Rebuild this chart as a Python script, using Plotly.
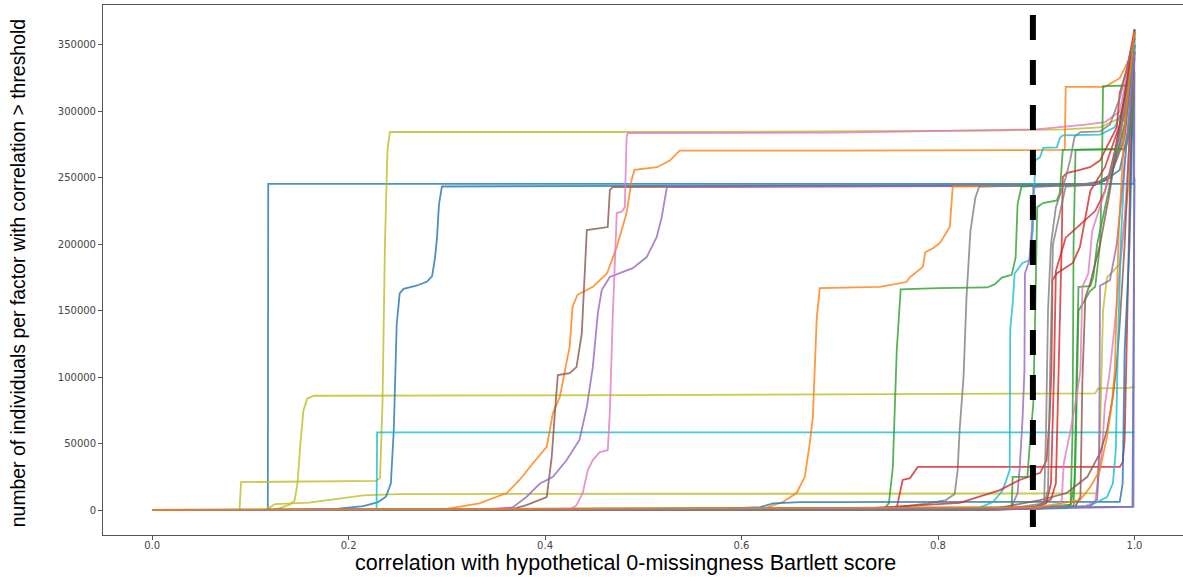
import plotly.graph_objects as go

# Correlation thresholds (x) and individuals-per-factor counts (y) for each factor curve
blue_a_x = [0, 0.1178, 0.1182, 0.5, 0.999, 1.0]
blue_a_y = [0, 0, 245500, 245500, 245500, 362000]

olive_a_x = [0, 0.089, 0.0905, 0.15, 0.228, 0.232, 0.2345, 0.237, 0.2395, 0.242, 0.5, 0.85, 0.93, 0.965, 0.985, 0.995, 1.0]
olive_a_y = [0, 0, 21000, 21200, 22000, 24000, 80000, 200000, 270000, 284500, 284500, 285500, 286500, 288000, 295000, 320000, 350000]

olive_b_x = [0, 0.12, 0.13, 0.14, 0.145, 0.148, 0.151, 0.154, 0.158, 0.165, 0.5, 0.96, 0.963, 0.995, 1.0]
olive_b_y = [0, 0, 1500, 4000, 7000, 20000, 50000, 75000, 84000, 86000, 86500, 87800, 91500, 92000, 93000]

olive_c_x = [0, 0.115, 0.12, 0.125, 0.16, 0.175, 0.19, 0.215, 0.25, 0.5, 0.9, 0.962, 0.965, 0.968, 0.972, 0.985, 0.995, 1.0]
olive_c_y = [0, 0, 2000, 4500, 5500, 7000, 9000, 11000, 12000, 12000, 12200, 12500, 60000, 150000, 175000, 185000, 250000, 345000]

blue_b_x = [0, 0.15, 0.19, 0.215, 0.23, 0.238, 0.243, 0.246, 0.249, 0.252, 0.256, 0.27, 0.28, 0.285, 0.288, 0.29, 0.292, 0.295, 0.5, 0.9, 0.95, 0.97, 0.985, 0.995, 1.0]
blue_b_y = [0, 0, 1000, 3000, 6000, 10000, 20000, 60000, 140000, 163000, 166500, 169000, 172000, 176000, 190000, 205000, 230000, 243500, 244000, 244500, 245500, 248000, 256000, 290000, 340000]

cyan_a_x = [0, 0.2285, 0.229, 0.999, 1.0]
cyan_a_y = [0, 0, 58500, 58500, 58500]

orange_a_x = [0, 0.25, 0.3, 0.333, 0.361, 0.374, 0.3875, 0.4017, 0.408, 0.415, 0.425, 0.428, 0.433, 0.4486, 0.463, 0.473, 0.483, 0.488, 0.491, 0.514, 0.527, 0.537, 0.7, 0.929, 0.93, 0.97, 0.985, 0.995, 1.0]
orange_a_y = [0, 0, 800, 5000, 12800, 22600, 35000, 47600, 73000, 85000, 123000, 153000, 162000, 168000, 178000, 198000, 223500, 248000, 256000, 258000, 263000, 270500, 270500, 271000, 318500, 318500, 325000, 340000, 358000]

brown_a_x = [0, 0.33, 0.37, 0.381, 0.4017, 0.4068, 0.41, 0.413, 0.425, 0.432, 0.4374, 0.4404, 0.4425, 0.4638, 0.466, 0.469, 0.6, 0.9, 0.96, 0.975, 0.99, 1.0]
brown_a_y = [0, 0, 1500, 3700, 9800, 40000, 73000, 101600, 103000, 107600, 133000, 173000, 210700, 213000, 241000, 243000, 243500, 244000, 245000, 250000, 280000, 350000]

purple_a_x = [0, 0.33, 0.367, 0.381, 0.395, 0.408, 0.422, 0.435, 0.4425, 0.4486, 0.4537, 0.4577, 0.4659, 0.4893, 0.5035, 0.5137, 0.5188, 0.524, 0.7, 0.9, 0.96, 0.975, 0.99, 1.0]
purple_a_y = [0, 0, 2000, 9800, 20000, 25000, 37600, 52700, 77500, 107600, 148000, 165600, 175400, 182000, 190400, 205500, 220500, 243000, 243500, 244000, 245000, 250000, 285000, 352000]

pink_a_x = [0, 0.425, 0.432, 0.4384, 0.4435, 0.4486, 0.4557, 0.4638, 0.4659, 0.469, 0.473, 0.478, 0.4812, 0.483, 0.4842, 0.7, 0.9, 0.95, 0.97, 0.985, 1.0]
pink_a_y = [0, 0, 3700, 12800, 30000, 37600, 43600, 45000, 73000, 148000, 223500, 224500, 228000, 280700, 283700, 284000, 286500, 290000, 292000, 300000, 356000]

orange_b_x = [0, 0.6187, 0.642, 0.656, 0.6644, 0.6695, 0.6726, 0.6766, 0.6797, 0.7408, 0.768, 0.771, 0.7846, 0.787, 0.7948, 0.802, 0.812, 0.815, 0.9, 0.96, 0.975, 0.99, 1.0]
orange_b_y = [0, 0, 6000, 12800, 25000, 50400, 70000, 145000, 167000, 168000, 171600, 175000, 183000, 194000, 197000, 201000, 213000, 243500, 244000, 245500, 252000, 290000, 360000]

gray_a_x = [0, 0.6, 0.75, 0.79, 0.808, 0.817, 0.82, 0.822, 0.826, 0.829, 0.833, 0.838, 0.842, 0.9, 0.96, 0.975, 0.99, 1.0]
gray_a_y = [0, 0, 1500, 5000, 7500, 12000, 30000, 60000, 100000, 160000, 210000, 235000, 243500, 244000, 245000, 252000, 300000, 355000]

green_a_x = [0, 0.7, 0.745, 0.75, 0.754, 0.758, 0.762, 0.8, 0.85, 0.858, 0.865, 0.875, 0.879, 0.881, 0.885, 0.9, 0.96, 0.975, 0.99, 1.0]
green_a_y = [0, 0, 1000, 5000, 32000, 120000, 166000, 167000, 167500, 170000, 175000, 177000, 190000, 230000, 243500, 244000, 245000, 250000, 290000, 355000]

red_a_x = [0, 0.757, 0.759, 0.764, 0.7715, 0.7795, 0.7813, 0.985, 0.988, 0.99, 0.992, 0.996, 1.0]
red_a_y = [0, 0, 5000, 22600, 24000, 32400, 32400, 32400, 36000, 52700, 122000, 260000, 350000]

blue_c_x = [0, 0.55, 0.619, 0.632, 0.66, 0.9, 0.985, 0.988, 0.99, 0.995, 1.0]
blue_c_y = [0, 0, 2200, 5000, 6000, 6000, 6200, 20000, 120000, 200000, 362000]

blue_d_x = [0, 0.8, 0.998, 1.0]
blue_d_y = [0, 1000, 2500, 250000]

purple_b_x = [0, 0.9, 0.999, 1.0]
purple_b_y = [0, 1000, 2300, 330000]

cyan_b_x = [0, 0.6, 0.84, 0.856, 0.866, 0.873, 0.8735, 0.8763, 0.878, 0.886, 0.893, 0.8966, 0.899, 0.904, 0.907, 0.921, 0.924, 0.927, 0.965, 0.98, 0.99, 1.0]
cyan_b_y = [0, 0, 1000, 6000, 15000, 30000, 135500, 158000, 178000, 186000, 188000, 210700, 263000, 265700, 272500, 273000, 280000, 282000, 282500, 288000, 305000, 355000]

purple_c_x = [0, 0.7, 0.85, 0.875, 0.881, 0.883, 0.886, 0.888, 0.8885, 0.893, 0.8955, 0.897, 0.92, 0.96, 0.975, 0.99, 1.0]
purple_c_y = [0, 0, 1000, 2500, 12800, 30000, 67700, 105000, 178000, 188000, 211000, 243000, 244000, 245000, 252000, 300000, 350000]

green_b_x = [0, 0.8, 0.87, 0.875, 0.876, 0.891, 0.893, 0.897, 0.899, 0.901, 0.907, 0.921, 0.924, 0.926, 0.927, 0.99, 0.997, 1.0]
green_b_y = [0, 0, 1500, 2500, 25000, 25000, 45000, 80000, 150000, 228000, 231000, 233000, 238600, 260000, 271000, 271500, 285000, 350000]

green_c_x = [0, 0.8, 0.93, 0.938, 0.94, 0.943, 0.955, 0.96, 0.965, 0.967, 0.968, 0.995, 1.0]
green_c_y = [0, 0, 1500, 3000, 40000, 150000, 165000, 168000, 200000, 260000, 319000, 319500, 360000]

green_d_x = [0, 0.85, 0.93, 0.935, 0.937, 0.938, 0.94, 0.99, 0.997, 1.0]
green_d_y = [0, 0, 2000, 4000, 60000, 200000, 271000, 272000, 290000, 345000]

green_e_x = [0, 0.9, 0.935, 0.939, 0.941, 0.943, 0.955, 0.958, 0.962, 0.975, 0.99, 1.0]
green_e_y = [0, 2000, 4000, 20000, 100000, 168000, 168500, 175000, 200000, 245000, 300000, 350000]

red_b_x = [0, 0.7, 0.822, 0.863, 0.883, 0.893, 0.904, 0.9105, 0.9135, 0.9155, 0.9165, 0.9208, 0.9373, 0.9445, 0.9475, 0.955, 0.97, 0.985, 1.0]
red_b_y = [0, 0, 5300, 15000, 22600, 25000, 28000, 37600, 67700, 105000, 173000, 178000, 186000, 198000, 210700, 240000, 258000, 290000, 358000]

red_c_x = [0, 0.85, 0.9, 0.915, 0.92, 0.922, 0.924, 0.926, 0.927, 0.931, 0.9445, 0.9547, 0.9648, 0.982, 0.985, 0.992, 1.0]
red_c_y = [0, 0, 3000, 8000, 20000, 80000, 135500, 203000, 250600, 253600, 256000, 258000, 263000, 288000, 314000, 331000, 361000]

red_d_x = [0, 0.85, 0.9, 0.91, 0.915, 0.918, 0.92, 0.93, 0.945, 0.96, 0.97, 0.98, 0.99, 1.0]
red_d_y = [0, 0, 2000, 5000, 20000, 100000, 180000, 205000, 215000, 225000, 240000, 270000, 310000, 360000]

pink_b_x = [0, 0.85, 0.922, 0.926, 0.928, 0.935, 0.942, 0.945, 0.947, 0.953, 0.957, 0.97, 0.985, 1.0]
pink_b_y = [0, 0, 2000, 8000, 35000, 60000, 90000, 105000, 168000, 178000, 210000, 240000, 280000, 352000]

pink_c_x = [0, 0.9, 0.95, 0.96, 0.967, 0.97, 0.975, 0.98, 0.99, 1.0]
pink_c_y = [0, 1000, 3000, 6000, 45000, 80000, 105000, 140000, 220000, 340000]

brown_b_x = [0, 0.85, 0.904, 0.931, 0.952, 0.965, 0.972, 0.978, 0.982, 0.985, 0.99, 0.995, 1.0]
brown_b_y = [0, 0, 7500, 12800, 25000, 43000, 60000, 85000, 110000, 140000, 200000, 280000, 345000]

brown_c_x = [0, 0.9, 0.94, 0.945, 0.947, 0.95, 0.955, 0.965, 0.975, 0.985, 1.0]
brown_c_y = [0, 1000, 3000, 10000, 98000, 160000, 171000, 200000, 240000, 290000, 350000]

gray_b_x = [0, 0.85, 0.905, 0.908, 0.91, 0.912, 0.915, 0.92, 0.93, 0.935, 0.939, 0.945, 0.965, 0.975, 0.985, 1.0]
gray_b_y = [0, 0, 3000, 6000, 60000, 150000, 200000, 228000, 250000, 265000, 281000, 284500, 285000, 290000, 310000, 357000]

gray_c_x = [0, 0.88, 0.908, 0.912, 0.914, 0.917, 0.93, 0.96, 0.975, 0.99, 1.0]
gray_c_y = [0, 2000, 5000, 15000, 100000, 200000, 243500, 245000, 252000, 300000, 350000]

cyan_c_x = [0, 0.9, 0.952, 0.972, 0.978, 0.981, 0.983, 0.986, 0.99, 0.995, 1.0]
cyan_c_y = [0, 1500, 2300, 9800, 20000, 45000, 120000, 200000, 260000, 300000, 350000]

purple_d_x = [0, 0.9, 0.955, 0.962, 0.964, 0.965, 0.968, 0.975, 0.982, 0.99, 1.0]
purple_d_y = [0, 1500, 3000, 8000, 40000, 169000, 170000, 173000, 200000, 260000, 345000]

orange_c_x = [0, 0.9, 0.9445, 0.9547, 0.9648, 0.972, 0.977, 0.98, 0.984, 0.99, 1.0]
orange_c_y = [0, 2000, 7500, 17000, 30000, 55000, 80000, 105000, 210000, 290000, 360000]

threshold = 0.8966

x_ticks = [0.0, 0.2, 0.4, 0.6, 0.8, 1.0]
x_tick_labels = ["0.0", "0.2", "0.4", "0.6", "0.8", "1.0"]
y_ticks = [0, 50000, 100000, 150000, 200000, 250000, 300000, 350000]
y_tick_labels = ["0", "50000", "100000", "150000", "200000", "250000", "300000", "350000"]

# matplotlib tab10 palette
palette = {
    "blue": "#1f77b4", "orange": "#ff7f0e", "green": "#2ca02c", "red": "#d62728",
    "purple": "#9467bd", "brown": "#8c564b", "pink": "#e377c2", "gray": "#7f7f7f",
    "olive": "#bcbd22", "cyan": "#17becf",
}

series = [
    ("blue", blue_a_x, blue_a_y), ("olive", olive_a_x, olive_a_y),
    ("olive", olive_b_x, olive_b_y), ("olive", olive_c_x, olive_c_y),
    ("blue", blue_b_x, blue_b_y), ("cyan", cyan_a_x, cyan_a_y),
    ("orange", orange_a_x, orange_a_y), ("brown", brown_a_x, brown_a_y),
    ("purple", purple_a_x, purple_a_y), ("pink", pink_a_x, pink_a_y),
    ("orange", orange_b_x, orange_b_y), ("gray", gray_a_x, gray_a_y),
    ("green", green_a_x, green_a_y), ("red", red_a_x, red_a_y),
    ("blue", blue_c_x, blue_c_y), ("blue", blue_d_x, blue_d_y),
    ("purple", purple_b_x, purple_b_y), ("cyan", cyan_b_x, cyan_b_y),
    ("purple", purple_c_x, purple_c_y), ("green", green_b_x, green_b_y),
    ("green", green_c_x, green_c_y), ("green", green_d_x, green_d_y),
    ("green", green_e_x, green_e_y), ("red", red_b_x, red_b_y),
    ("red", red_c_x, red_c_y), ("red", red_d_x, red_d_y),
    ("pink", pink_b_x, pink_b_y), ("pink", pink_c_x, pink_c_y),
    ("brown", brown_b_x, brown_b_y), ("brown", brown_c_x, brown_c_y),
    ("gray", gray_b_x, gray_b_y), ("gray", gray_c_x, gray_c_y),
    ("cyan", cyan_c_x, cyan_c_y), ("purple", purple_d_x, purple_d_y),
    ("orange", orange_c_x, orange_c_y),
]

fig = go.Figure()
for color, xs, ys in series:
    fig.add_trace(go.Scatter(
        x=xs, y=ys, mode="lines",
        line=dict(color=palette[color], width=1.8),
        opacity=0.8, showlegend=False, hoverinfo="skip",
    ))

# vertical dashed threshold marker
fig.add_shape(
    type="line", xref="x", yref="y",
    x0=threshold, x1=threshold, y0=372500, y1=-12800,
    line=dict(color="black", width=6, dash="25px,20px"),
)

tick_font = dict(family="DejaVu Sans", size=10, color="#444")

fig.update_layout(
    width=1183, height=577,
    margin=dict(l=103, r=0, t=5, b=42),
    paper_bgcolor="white", plot_bgcolor="white",
    xaxis=dict(
        range=[-0.05, 1.0494], tickvals=x_ticks, ticktext=x_tick_labels,
        showgrid=False, zeroline=False, showline=True, mirror=True,
        linecolor="#555", linewidth=1, ticks="outside", ticklen=4,
        tickcolor="#555", tickfont=tick_font, ticklabelstandoff=-3,
    ),
    yaxis=dict(
        range=[-18800, 380100], tickvals=y_ticks, ticktext=y_tick_labels,
        showgrid=False, zeroline=False, showline=True,
        linecolor="#555", linewidth=1, ticks="outside", ticklen=4,
        tickcolor="#555", tickfont=tick_font,
    ),
    annotations=[
        dict(text="correlation with hypothetical 0-missingness Bartlett score",
             xref="paper", yref="paper", x=0.484, y=-0.053,
             xanchor="center", yanchor="middle", showarrow=False,
             font=dict(family="Liberation Sans", size=21.5, color="black")),
        dict(text="number of individuals per factor with correlation > threshold",
             xref="paper", yref="paper", x=-0.0787, y=0.494, textangle=-90,
             xanchor="center", yanchor="middle", showarrow=False,
             font=dict(family="Liberation Sans", size=19.4, color="black")),
    ],
)

fig.write_html("out.html")
